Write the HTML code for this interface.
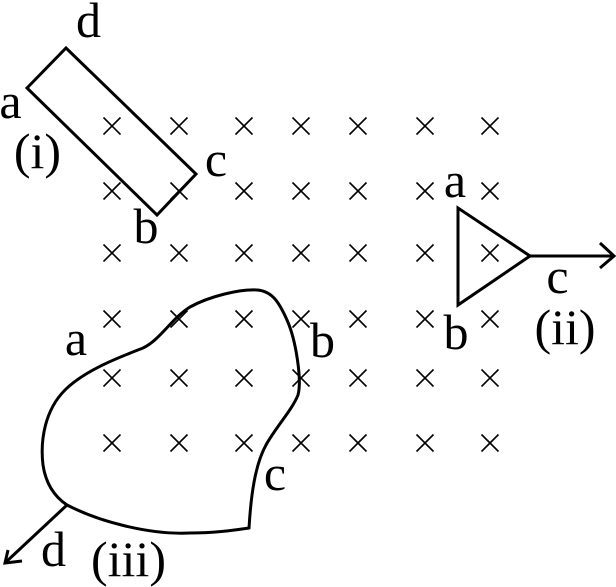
<!DOCTYPE html>
<html>
<head>
<meta charset="utf-8">
<style>
html,body{margin:0;padding:0;background:#fff;}
svg{display:block;}
text{font-family:"Liberation Serif",serif;font-size:50px;fill:#000;text-anchor:middle;}
</style>
</head>
<body>
<svg width="616" height="587" viewBox="0 0 616 587" xmlns="http://www.w3.org/2000/svg">
<defs>
  <path id="x" d="M-8.5,-8.5 L8.5,8.5 M8.5,-8.5 L-8.5,8.5" stroke="#000" stroke-width="1.6" fill="none"/>
</defs>
<rect width="616" height="587" fill="#fff"/>
<g fill="none" stroke="#000" stroke-width="3" stroke-linejoin="miter">
  <polygon points="27,88 66,48 196,174 157,215"/>
  <polygon points="458,208 458,305 530,256"/>
  <line x1="530" y1="256" x2="613" y2="256"/>
  <polyline points="600,243 614,256 600,268"/>
  <path d="M249,528 C251,495 255,465 266,445 C276,427 292,410 298,395 C302,380 296,340 287,320 C279,302 272,291 257,290 C240,289 210,296 190,307 C172,318 160,340 143,348 C120,357 85,370 65,390 C45,410 40,440 43,465 C46,485 55,497 67,505 C100,522 150,535 190,533 C215,533 235,530 249,528 Z"/>
  <line x1="67" y1="505" x2="6" y2="562"/>
  <polyline points="8,550 5,563 22,561"/>
</g>
<g>
  <use href="#x" x="112" y="126"/><use href="#x" x="179" y="126"/><use href="#x" x="244" y="126"/><use href="#x" x="301" y="126"/><use href="#x" x="358" y="126"/><use href="#x" x="425" y="126"/><use href="#x" x="490" y="126"/>
  <use href="#x" x="112" y="191"/><use href="#x" x="179" y="191"/><use href="#x" x="244" y="191"/><use href="#x" x="301" y="191"/><use href="#x" x="358" y="191"/><use href="#x" x="425" y="191"/><use href="#x" x="490" y="191"/>
  <use href="#x" x="112" y="253"/><use href="#x" x="179" y="253"/><use href="#x" x="244" y="253"/><use href="#x" x="301" y="253"/><use href="#x" x="358" y="253"/><use href="#x" x="425" y="253"/><use href="#x" x="490" y="253"/>
  <use href="#x" x="112" y="319"/><use href="#x" x="179" y="319"/><use href="#x" x="244" y="319"/><use href="#x" x="301" y="319"/><use href="#x" x="358" y="319"/><use href="#x" x="425" y="319"/><use href="#x" x="490" y="319"/>
  <use href="#x" x="112" y="378"/><use href="#x" x="179" y="378"/><use href="#x" x="244" y="378"/><use href="#x" x="301" y="378"/><use href="#x" x="358" y="378"/><use href="#x" x="425" y="378"/><use href="#x" x="490" y="378"/>
  <use href="#x" x="112" y="443"/><use href="#x" x="179" y="443"/><use href="#x" x="244" y="443"/><use href="#x" x="301" y="443"/><use href="#x" x="358" y="443"/><use href="#x" x="425" y="443"/><use href="#x" x="490" y="443"/>
</g>
<text x="88.5" y="37">d</text>
<text x="10.5" y="118">a</text>
<text x="37.5" y="168">(i)</text>
<text x="216" y="176">c</text>
<text x="146" y="243">b</text>
<text x="455" y="197">a</text>
<text x="456" y="349">b</text>
<text x="557.5" y="293">c</text>
<text x="565" y="344">(ii)</text>
<text x="76" y="355">a</text>
<text x="322.5" y="357">b</text>
<text x="275" y="490">c</text>
<text x="53.5" y="566">d</text>
<text x="128.5" y="576">(iii)</text>
</svg>
</body>
</html>
